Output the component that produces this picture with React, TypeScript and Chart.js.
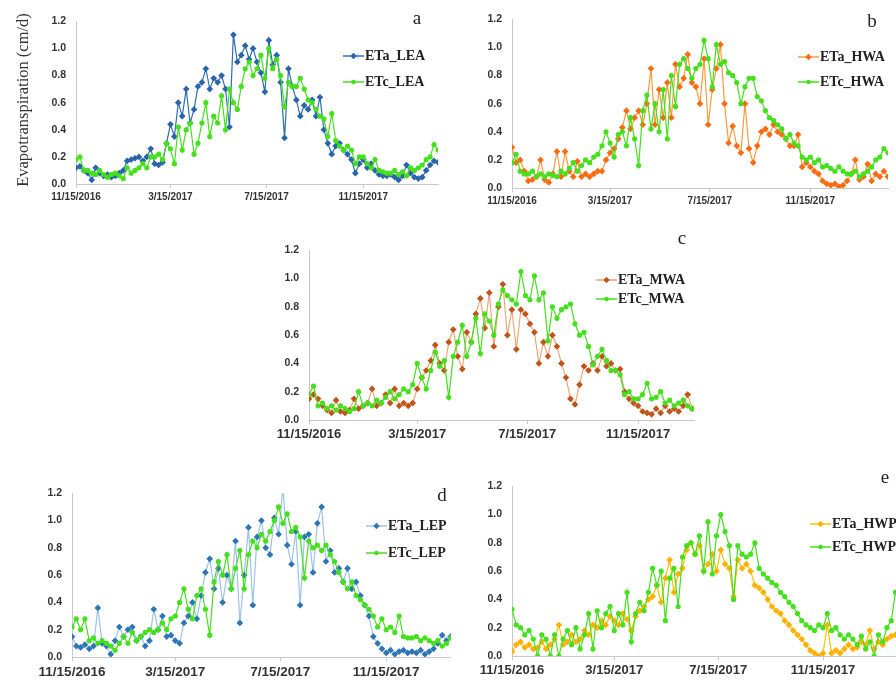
import React, { useEffect, useRef } from "react";
import { Chart, registerables } from "chart.js";
Chart.register(...registerables);

// days since 11/15/2016, one value every STEP days
const STEP = 5;
const tickDays = [0, 120, 242, 365];
const tickLabels = ["11/15/2016", "3/15/2017", "7/15/2017", "11/15/2017"];

const etaLEA = [0.12,0.13,0.10,0.08,0.03,0.12,0.08,0.06,0.07,0.05,
 0.06,0.08,0.10,0.17,0.18,0.19,0.20,0.17,0.20,0.26,
 0.15,0.14,0.16,0.30,0.44,0.35,0.60,0.50,0.70,0.45,
 0.55,0.72,0.75,0.85,0.70,0.78,0.75,0.80,0.70,0.42,
 1.10,0.90,0.95,1.02,0.92,1.00,0.90,0.82,0.68,1.06,
 0.88,0.95,0.75,0.34,0.85,0.72,0.62,0.50,0.58,0.55,
 0.62,0.50,0.64,0.40,0.30,0.22,0.28,0.30,0.25,0.22,
 0.18,0.08,0.15,0.18,0.12,0.15,0.10,0.07,0.06,0.06,
 0.07,0.05,0.03,0.06,0.14,0.08,0.05,0.04,0.05,0.10,
 0.14,0.17,0.16];
const etcLEA = [0.18,0.20,0.10,0.10,0.08,0.07,0.10,0.07,0.05,0.07,
 0.08,0.06,0.04,0.12,0.08,0.10,0.12,0.15,0.12,0.20,
 0.20,0.22,0.18,0.30,0.26,0.15,0.42,0.25,0.40,0.45,
 0.22,0.30,0.45,0.60,0.35,0.50,0.45,0.65,0.40,0.70,
 0.60,0.55,0.72,0.85,0.90,0.80,0.85,0.95,0.78,1.00,
 0.85,0.92,0.80,0.57,0.75,0.72,0.72,0.78,0.70,0.62,
 0.60,0.55,0.50,0.48,0.35,0.52,0.32,0.28,0.25,0.28,
 0.25,0.15,0.20,0.20,0.15,0.12,0.18,0.10,0.09,0.08,
 0.08,0.10,0.07,0.09,0.06,0.12,0.10,0.12,0.14,0.18,
 0.20,0.29,0.25];

const etaHWA = [0.29,0.18,0.20,0.12,0.05,0.06,0.08,0.20,0.06,0.04,
 0.10,0.26,0.08,0.26,0.12,0.08,0.19,0.08,0.10,0.08,
 0.10,0.12,0.12,0.20,0.25,0.28,0.35,0.43,0.55,0.42,
 0.50,0.55,0.45,0.60,0.85,0.45,0.70,0.50,0.75,0.50,
 0.88,0.72,0.78,0.95,0.75,0.72,0.60,0.92,0.45,0.70,
 0.85,1.02,0.60,0.32,0.44,0.30,0.25,0.60,0.28,0.18,
 0.30,0.40,0.42,0.38,0.45,0.40,0.38,0.35,0.30,0.30,
 0.38,0.15,0.18,0.15,0.12,0.10,0.05,0.03,0.02,0.03,
 0.01,0.02,0.05,0.10,0.20,0.06,0.08,0.17,0.05,0.10,
 0.08,0.12,0.08];
const etcHWA = [0.18,0.24,0.12,0.10,0.10,0.12,0.08,0.10,0.08,0.10,
 0.09,0.08,0.12,0.10,0.14,0.18,0.12,0.16,0.20,0.18,
 0.22,0.24,0.30,0.40,0.32,0.22,0.38,0.40,0.30,0.50,
 0.35,0.16,0.55,0.66,0.42,0.60,0.40,0.70,0.35,0.80,
 0.58,0.88,0.92,0.85,0.78,0.85,0.88,1.05,0.92,0.72,
 1.02,0.88,0.90,0.82,0.80,0.75,0.60,0.72,0.78,0.78,
 0.65,0.62,0.55,0.50,0.48,0.45,0.42,0.35,0.38,0.32,
 0.30,0.22,0.20,0.22,0.18,0.20,0.15,0.16,0.14,0.12,
 0.15,0.12,0.10,0.10,0.12,0.08,0.10,0.12,0.15,0.20,
 0.22,0.28,0.25];

const etaMWA = [0.15,0.18,0.15,0.10,0.07,0.05,0.14,0.06,0.05,0.07,
 0.15,0.08,0.10,0.12,0.22,0.10,0.12,0.18,0.12,0.22,
 0.10,0.12,0.10,0.12,0.22,0.30,0.35,0.42,0.53,0.40,
 0.35,0.55,0.64,0.45,0.36,0.62,0.55,0.75,0.86,0.65,
 0.90,0.52,0.80,0.96,0.60,0.78,0.50,0.78,0.75,0.68,
 0.62,0.40,0.55,0.45,0.60,0.52,0.40,0.30,0.15,0.11,
 0.25,0.38,0.35,0.40,0.35,0.45,0.38,0.40,0.35,0.36,
 0.20,0.15,0.12,0.10,0.06,0.05,0.04,0.08,0.05,0.10,
 0.06,0.08,0.06,0.10,0.18,0.08];
const etcMWA = [0.18,0.24,0.10,0.12,0.08,0.10,0.07,0.10,0.08,0.06,
 0.08,0.20,0.10,0.12,0.10,0.14,0.12,0.16,0.20,0.15,
 0.18,0.22,0.20,0.25,0.40,0.30,0.22,0.35,0.48,0.38,
 0.42,0.16,0.45,0.55,0.67,0.45,0.55,0.72,0.47,0.75,
 0.70,0.60,0.82,0.92,0.88,0.85,0.82,1.05,0.88,0.85,
 1.02,0.85,0.90,0.56,0.80,0.72,0.78,0.80,0.82,0.68,
 0.60,0.62,0.52,0.39,0.45,0.50,0.42,0.35,0.35,0.32,
 0.18,0.20,0.15,0.15,0.18,0.26,0.15,0.16,0.20,0.12,
 0.14,0.10,0.12,0.14,0.10,0.08];

const etaLEP = [0.15,0.08,0.07,0.09,0.06,0.08,0.36,0.10,0.08,0.02,
 0.12,0.22,0.15,0.20,0.22,0.12,0.15,0.08,0.12,0.35,
 0.20,0.30,0.15,0.16,0.12,0.10,0.25,0.30,0.40,0.28,
 0.45,0.62,0.72,0.50,0.65,0.40,0.60,0.50,0.85,0.25,
 0.60,0.95,0.38,0.88,1.00,0.80,0.75,1.02,0.90,1.24,
 0.82,0.68,0.92,0.38,0.88,0.90,0.62,0.98,1.10,0.70,
 0.78,0.62,0.65,0.55,0.65,0.50,0.55,0.45,0.38,0.30,
 0.15,0.10,0.06,0.03,0.05,0.02,0.04,0.05,0.03,0.04,
 0.03,0.05,0.02,0.04,0.06,0.10,0.16,0.12,0.15,0.12];
const etcLEP = [0.22,0.28,0.20,0.28,0.12,0.14,0.10,0.12,0.10,0.08,
 0.05,0.10,0.15,0.10,0.18,0.12,0.15,0.18,0.20,0.18,
 0.20,0.25,0.20,0.28,0.30,0.40,0.50,0.35,0.28,0.45,
 0.50,0.35,0.16,0.55,0.70,0.60,0.75,0.50,0.65,0.78,
 0.50,0.75,0.85,0.80,0.90,0.85,0.92,1.00,1.10,0.98,
 1.05,0.92,0.95,0.88,0.58,0.85,0.80,0.82,0.78,0.82,
 0.75,0.70,0.62,0.55,0.50,0.55,0.45,0.42,0.38,0.35,
 0.30,0.22,0.28,0.20,0.22,0.18,0.30,0.15,0.14,0.14,
 0.15,0.12,0.14,0.12,0.10,0.12,0.08,0.10,0.14,0.12];

const etaHWP = [0.03,0.08,0.10,0.06,0.08,0.05,0.06,0.10,0.05,0.08,
 0.12,0.22,0.08,0.10,0.15,0.10,0.12,0.18,0.15,0.22,
 0.20,0.25,0.22,0.28,0.25,0.22,0.30,0.26,0.18,0.28,
 0.32,0.35,0.40,0.42,0.50,0.38,0.55,0.68,0.45,0.58,
 0.62,0.75,0.80,0.72,0.78,0.60,0.65,0.72,0.60,0.75,
 0.65,0.62,0.42,0.68,0.62,0.65,0.60,0.50,0.48,0.45,
 0.40,0.35,0.32,0.30,0.25,0.22,0.18,0.15,0.12,0.08,
 0.04,0.02,0.00,0.02,0.22,0.02,0.04,0.02,0.05,0.08,
 0.05,0.06,0.10,0.08,0.18,0.05,0.10,0.08,0.12,0.14,
 0.15,0.18];
const etcHWP = [0.33,0.22,0.20,0.15,0.18,0.12,0.00,0.15,0.12,0.00,
 0.15,0.00,0.12,0.18,0.08,0.20,0.05,0.15,0.30,0.05,
 0.32,0.20,0.30,0.35,0.18,0.30,0.22,0.45,0.10,0.30,
 0.38,0.32,0.45,0.62,0.50,0.60,0.25,0.55,0.62,0.35,
 0.70,0.78,0.80,0.72,0.85,0.60,0.95,0.58,0.85,1.00,
 0.88,0.78,0.40,0.78,0.72,0.70,0.72,0.80,0.62,0.58,
 0.55,0.52,0.50,0.45,0.42,0.38,0.35,0.30,0.25,0.22,
 0.20,0.18,0.22,0.20,0.30,0.18,0.20,0.15,0.12,0.15,
 0.12,0.08,0.14,0.05,0.10,0.00,0.15,0.10,0.20,0.25,
 0.45,0.40];

const GREEN = "#45E01C";
const AXIS = "#C8C8C8";
const TICK_COLOR = "#333333";
const SANS = "'Liberation Sans', Arial, sans-serif";
const SERIF = "'Liberation Serif', 'Times New Roman', serif";

type PanelProps = {
  plotLeft: number; plotTop: number; plotW: number; plotH: number; xMax: number;
  eta: number[]; etc: number[]; etaLine: string; etaMarker: string; xFont: number;
};

function Panel(p: PanelProps) {
  const ref = useRef<HTMLCanvasElement>(null);
  const yW = 50, padTop = 10, padRight = 12;
  const xH = p.xFont > 11 ? 28 : 22;
  const width = Math.round(yW + p.plotW + padRight);
  const height = Math.round(padTop + p.plotH + xH);
  useEffect(() => {
    const pts = (arr: number[]) => arr.map((v, i) => ({ x: i * STEP, y: v }));
    const chart = new Chart(ref.current as HTMLCanvasElement, {
      type: "line",
      data: {
        datasets: [
          {
            data: pts(p.etc), borderColor: GREEN, backgroundColor: GREEN,
            pointBackgroundColor: GREEN, pointBorderColor: GREEN, borderWidth: 1.2,
            pointRadius: 2.0, pointStyle: "circle", order: 0, tension: 0,
          },
          {
            data: pts(p.eta), borderColor: p.etaLine, backgroundColor: p.etaMarker,
            pointBackgroundColor: p.etaMarker, pointBorderColor: p.etaMarker, borderWidth: 1.2,
            pointRadius: 2.5, pointStyle: "rectRot", order: 1, tension: 0,
          },
        ],
      },
      options: {
        responsive: false,
        animation: false,
        events: [],
        layout: { padding: { top: padTop, right: padRight, left: 0, bottom: 0 } },
        plugins: { legend: { display: false }, tooltip: { enabled: false } },
        scales: {
          x: {
            type: "linear", min: 0, max: p.xMax,
            afterBuildTicks: (s: any) => { s.ticks = tickDays.map((v) => ({ value: v })); },
            afterFit: (s: any) => { s.height = xH; },
            ticks: {
              autoSkip: false, maxRotation: 0, minRotation: 0, padding: 3, color: TICK_COLOR,
              font: { family: SANS, size: p.xFont, weight: "bold" },
              callback: (v: any) => { const i = tickDays.indexOf(Number(v)); return i >= 0 ? tickLabels[i] : ""; },
            },
            grid: { drawOnChartArea: false, drawTicks: true, tickLength: 4, color: AXIS },
            border: { display: true, color: AXIS, width: 1 },
          },
          y: {
            min: 0, max: 1.2,
            afterFit: (s: any) => { s.width = yW; },
            ticks: {
              stepSize: 0.2, padding: 10, color: TICK_COLOR,
              font: { family: SANS, size: 10.5, weight: "bold" },
              callback: (v: any) => Number(v).toFixed(1),
            },
            grid: { drawOnChartArea: false, drawTicks: false, color: AXIS },
            border: { display: true, color: AXIS, width: 1 },
          },
        },
      } as any,
    });
    return () => chart.destroy();
  }, []);
  return (
    <canvas
      ref={ref}
      width={width}
      height={height}
      style={{ position: "absolute", left: p.plotLeft - yW, top: p.plotTop - padTop, width, height }}
    />
  );
}

function LegendItem({ x, y, label, line, marker, diamond }: { x: number; y: number; label: string; line: string; marker: string; diamond: boolean }) {
  return (
    <div style={{ position: "absolute", left: x, top: y - 10, height: 20, display: "flex", alignItems: "center", whiteSpace: "nowrap" }}>
      <svg width={21} height={10} style={{ display: "block" }}>
        <line x1={0} y1={5} x2={21} y2={5} stroke={line} strokeWidth={1.5} />
        {diamond ? <polygon points="10.5,1.8 13.7,5 10.5,8.2 7.3,5" fill={marker} /> : <circle cx={10.5} cy={5} r={2.3} fill={marker} />}
      </svg>
      <span style={{ fontFamily: SERIF, fontWeight: "bold", fontSize: 14, color: "#222", marginLeft: 1, lineHeight: "20px" }}>{label}</span>
    </div>
  );
}

function Letter({ x, y, t }: { x: number; y: number; t: string }) {
  return (
    <div style={{ position: "absolute", left: x, top: y, transform: "translate(-50%,-50%)", fontFamily: SERIF, fontSize: 19, color: "#222", lineHeight: "20px" }}>{t}</div>
  );
}

export default function App() {
  return (
    <div style={{ position: "fixed", left: 0, top: 0, width: 896, height: 682, overflow: "hidden", background: "#fff" }}>
      <Panel plotLeft={76} plotTop={15} plotW={361.7} plotH={169} xMax={460} eta={etaLEA} etc={etcLEA} etaLine="#2E6DB4" etaMarker="#2A64AC" xFont={10} />
      <Panel plotLeft={512} plotTop={13} plotW={375.5} plotH={175} xMax={460} eta={etaHWA} etc={etcHWA} etaLine="#FF9A3C" etaMarker="#FF6A10" xFont={10} />
      <Panel plotLeft={309} plotTop={244} plotW={385} plotH={176} xMax={427} eta={etaMWA} etc={etcMWA} etaLine="#EBA77A" etaMarker="#C0541A" xFont={13} />
      <div style={{ position: "absolute", left: 0, top: 0, width: 451, height: 682, overflow: "hidden" }}>
        <Panel plotLeft={72} plotTop={487} plotW={395.7} plotH={170} xMax={460} eta={etaLEP} etc={etcLEP} etaLine="#9DC3E6" etaMarker="#2E75B6" xFont={13.5} />
        <LegendItem x={366} y={526} label="ETa_LEP" line="#9DC3E6" marker="#2E75B6" diamond />
        <LegendItem x={366} y={553} label="ETc_LEP" line={GREEN} marker={GREEN} diamond={false} />
        <Letter x={442} y={495} t="d" />
      </div>
      <Panel plotLeft={512} plotTop={480} plotW={392} plotH={176} xMax={460} eta={etaHWP} etc={etcHWP} etaLine="#FFC000" etaMarker="#FFB000" xFont={13} />

      <div style={{ position: "absolute", left: 23, top: 100, transform: "translate(-50%,-50%) rotate(-90deg)", whiteSpace: "nowrap", fontFamily: SERIF, fontSize: 16.5, color: "#333" }}>
        Evapotranspiration (cm/d)
      </div>

      <LegendItem x={343} y={56} label="ETa_LEA" line="#2E6DB4" marker="#2A64AC" diamond />
      <LegendItem x={343} y={82} label="ETc_LEA" line={GREEN} marker={GREEN} diamond={false} />
      <LegendItem x={798} y={57} label="ETa_HWA" line="#FF9A3C" marker="#FF6A10" diamond />
      <LegendItem x={798} y={82} label="ETc_HWA" line={GREEN} marker={GREEN} diamond={false} />
      <LegendItem x={596} y={280} label="ETa_MWA" line="#EBA77A" marker="#C0541A" diamond />
      <LegendItem x={596} y={299} label="ETc_MWA" line={GREEN} marker={GREEN} diamond={false} />
      <LegendItem x={810} y={524} label="ETa_HWP" line="#FFC000" marker="#FFB000" diamond />
      <LegendItem x={810} y={547} label="ETc_HWP" line={GREEN} marker={GREEN} diamond={false} />

      <Letter x={417} y={18} t="a" />
      <Letter x={872} y={21} t="b" />
      <Letter x={682} y={238} t="c" />
      <Letter x={885} y={477} t="e" />
    </div>
  );
}
